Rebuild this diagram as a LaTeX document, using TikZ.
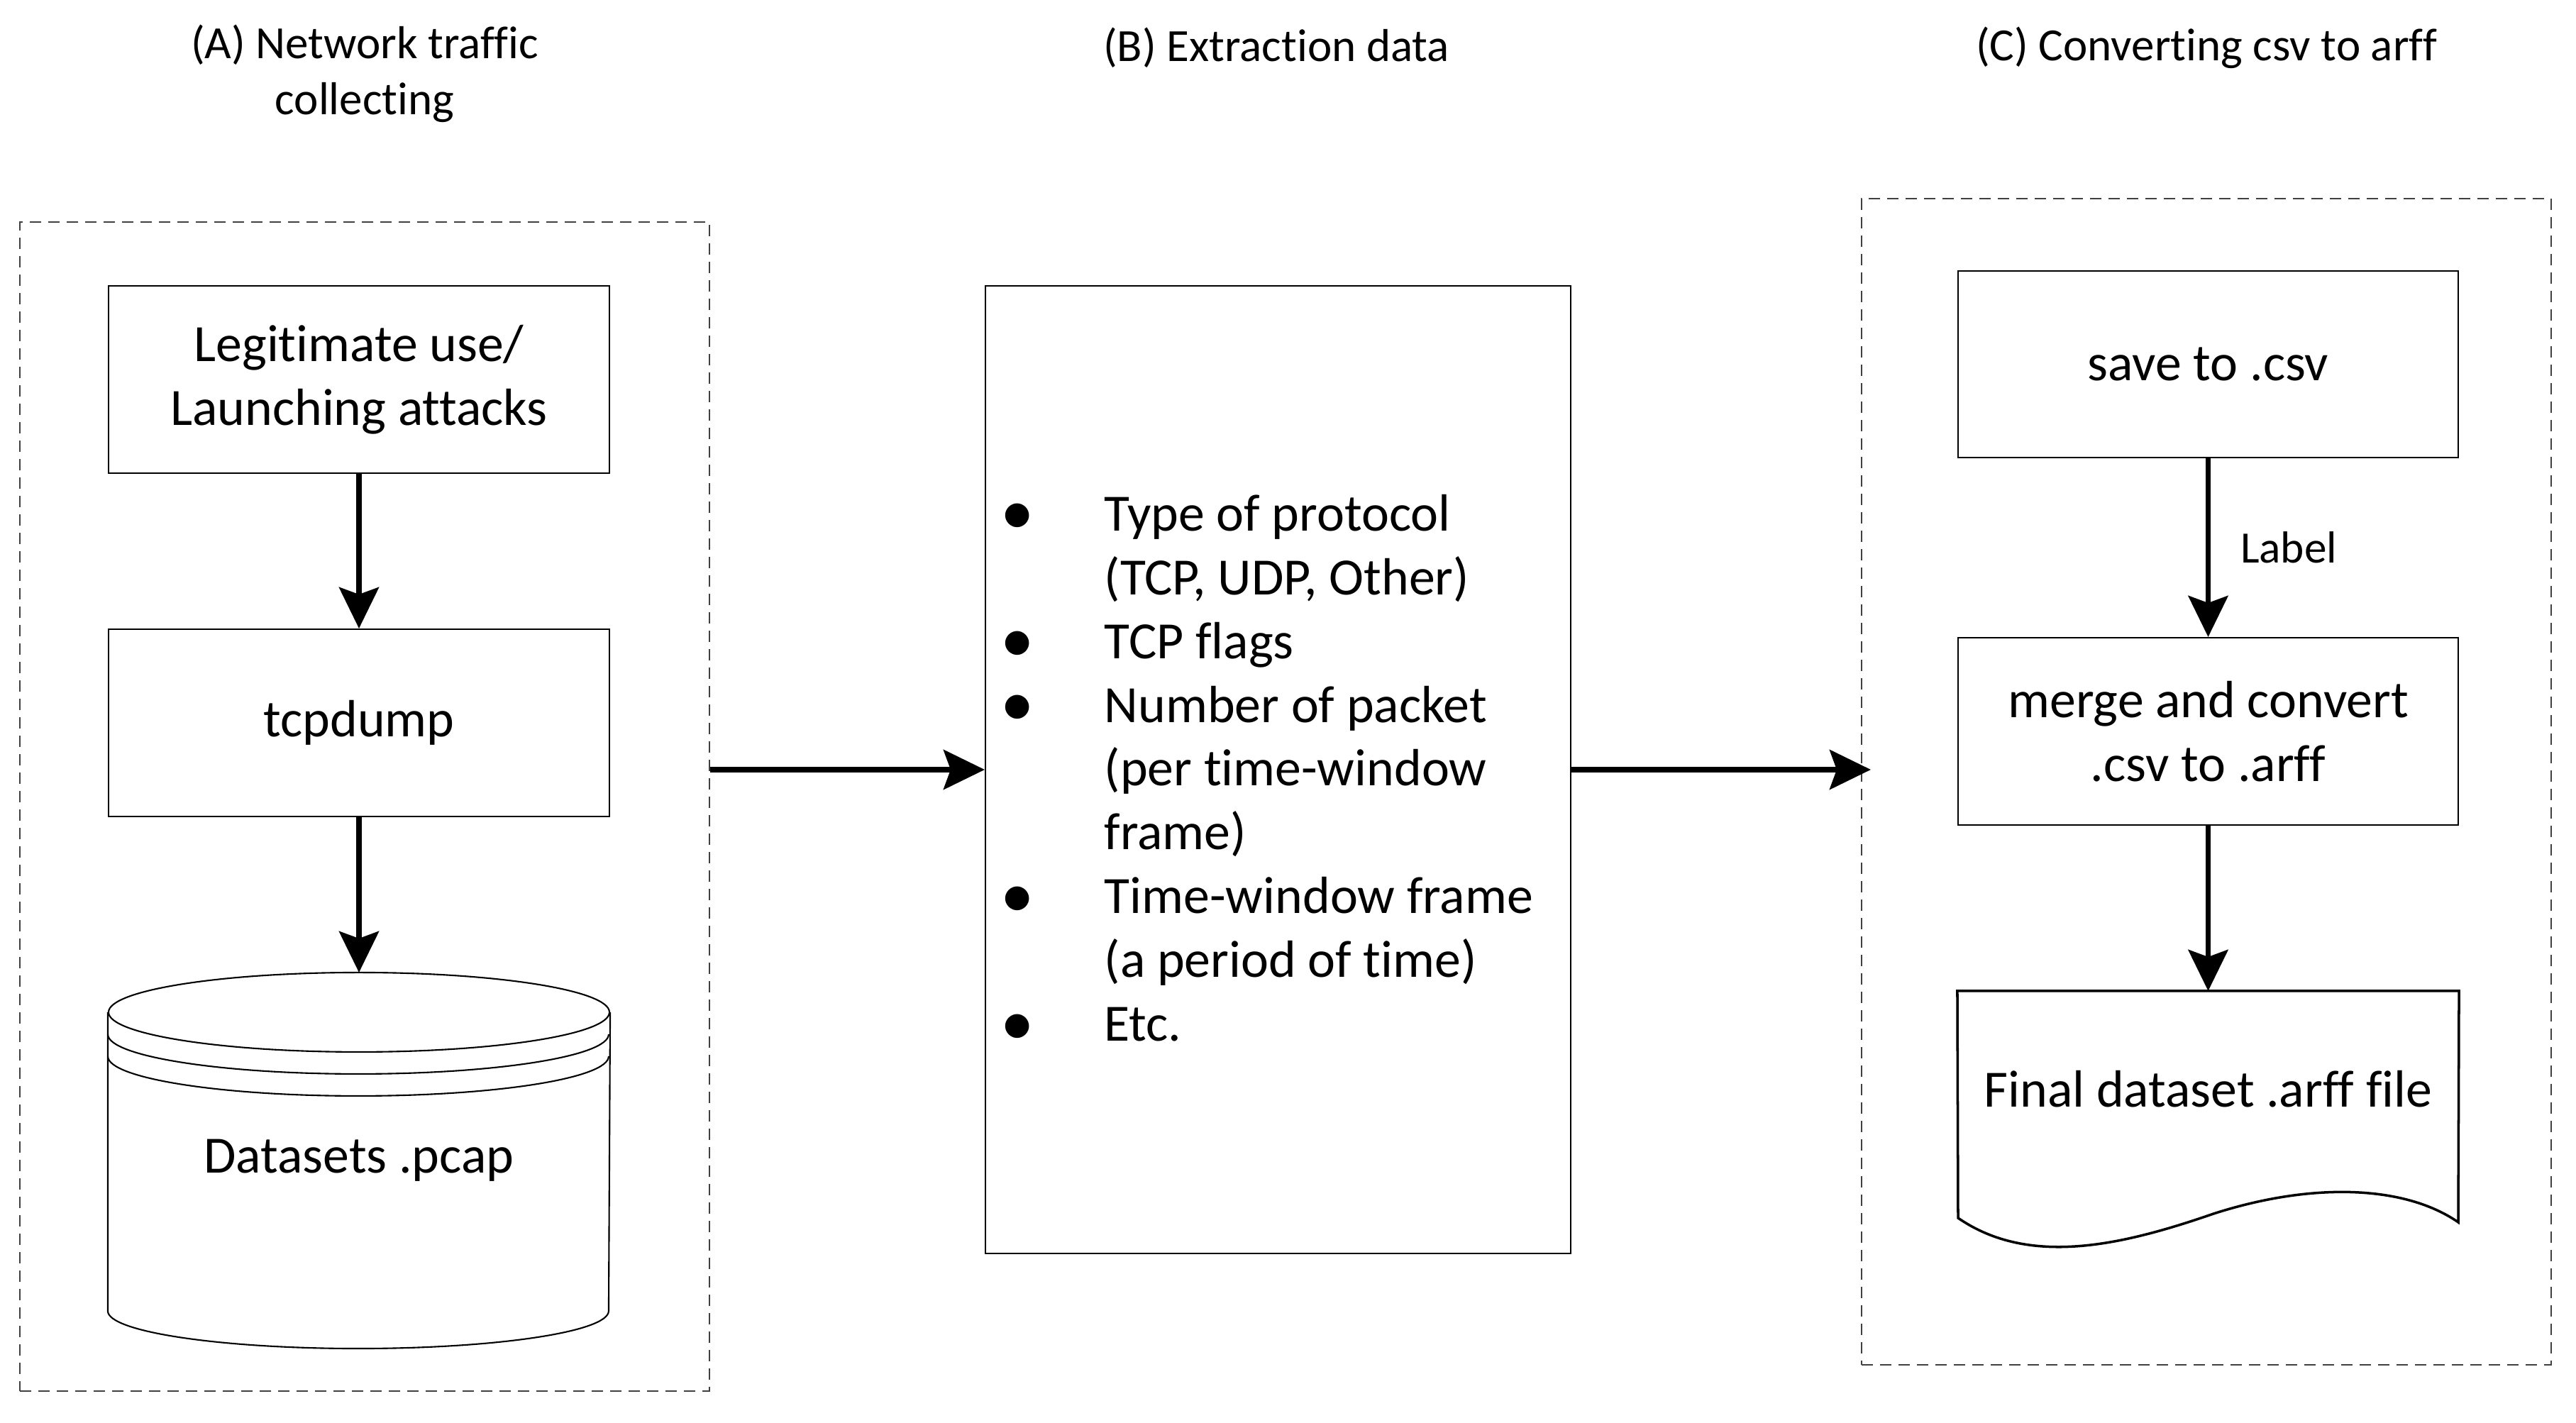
\documentclass[tikz,border=0pt]{standalone}
\usepackage{fontspec}
\setmainfont{Carlito}[Ligatures={CommonOff,ContextualOff}, Contextuals=AlternateOff]
\usetikzlibrary{arrows.meta}
\usetikzlibrary{positioning}

\newcommand\dotmark{\raisebox{-0.08em}{\fontsize{27}{25.6}\selectfont\textbullet}}

\begin{document}
\begin{tikzpicture}[
    box/.style={draw, line width=0.6pt, minimum width=7.06cm, minimum height=2.64cm, align=center, font=\fontsize{21}{25.6}\selectfont},
    groupbox/.style={draw=black!75, line width=0.6pt, dash pattern=on 1.6mm off 1mm, minimum width=9.72cm},
    title/.style={align=center, font=\fontsize{18.5}{22.5}\selectfont},
    flow/.style={-{Stealth[length=5.8mm, width=5.6mm, inset=1mm]}, line width=2pt}
]
    \useasboundingbox (0, 0) rectangle (36.31, 20.06);

    \node [title] (titleA) at (5.14, 19.02) {(A) Network traffic\\collecting};
    \node [title] (titleB) at (17.99, 19.39) {(B) Extraction data};
    \node [title] (titleC) at (31.10, 19.39) {(C) Converting csv to arff};

    \node [groupbox, minimum height=16.48cm] (groupA) at (5.14, 8.69) {};
    \node [groupbox, minimum height=16.44cm] (groupC) at (31.10, 9.04) {};

    \node [box] (legit) at (5.06, 14.71) {Legitimate use/\\Launching attacks};
    \node [box] (tcpdump) at (5.06, 9.87) {tcpdump};
    \node [box, draw=none, minimum height=5.28cm] (db) at (5.06, 3.70) {Datasets .pcap};
    \draw [line width=0.6pt] ([yshift=-5.6mm]db.north) ellipse [x radius=3.53cm, y radius=5.6mm];
    \draw [line width=0.6pt] ([yshift=-5.6mm]db.north west) -- ([yshift=5.3mm]db.south west)
        arc [start angle=180, end angle=360, x radius=3.53cm, y radius=5.3mm] -- ([yshift=-5.6mm]db.north east);
    \foreach \d in {8.7mm, 11.8mm}
        \draw [line width=0.6pt] ([yshift=-\d]db.north west) arc [start angle=180, end angle=360, x radius=3.53cm, y radius=5.6mm];

    \node [box, minimum width=8.25cm, minimum height=13.64cm] (extract) at (18.015, 9.21) {};
    \node [anchor=west, inner sep=0pt, font=\fontsize{21}{25.6}\selectfont] (features) at (14.10, 9.16) {%
        \begin{tabular}{@{}p{1.46cm}@{}l@{}}
            \dotmark & Type of protocol\\
                     & (TCP, UDP, Other)\\
            \dotmark & TCP flags\\
            \dotmark & Number of packet\\
                     & (per time-window\\
                     & frame)\\
            \dotmark & Time-window frame\\
                     & (a period of time)\\
            \dotmark & Etc.
        \end{tabular}};

    \node [box, minimum width=7.05cm, minimum height=2.63cm] (save) at (31.125, 14.925) {save to .csv};
    \node [box, minimum width=7.05cm] (merge) at (31.125, 9.75) {merge and convert\\.csv to .arff};
    \node [box, draw=none, minimum width=7.05cm, minimum height=2.74cm] (doc) at (31.125, 4.71) {Final dataset .arff file};
    \draw [line width=1pt] (doc.north west) -- (doc.north east) -- (34.65, 2.83)
        .. controls (33.9, 3.35) and (32.6, 3.4) .. (31.2, 2.95)
        .. controls (29.9, 2.5) and (28.6, 2.2) .. (27.60, 2.89) -- cycle;

    \draw [flow] (legit) -- (tcpdump);
    \draw [flow] (tcpdump) -- (db);
    \draw [flow] (groupA.east |- extract.west) -- (extract.west);
    \draw [flow] (extract.east) -- ([xshift=1.4mm]groupC.west |- extract.east);
    \draw [flow] (save) -- node [right=4.2mm, inner sep=0pt, font=\fontsize{18}{22}\selectfont] (label) {Label} (merge);
    \draw [flow] (merge) -- (doc);
\end{tikzpicture}
\end{document}
